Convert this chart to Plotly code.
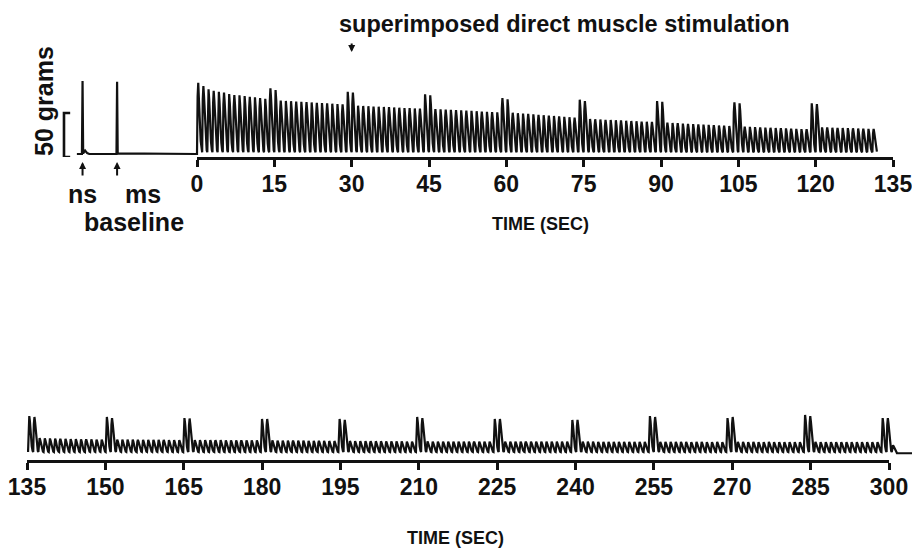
import numpy as np
import plotly.graph_objects as go

W, H = 912, 550

# ---------------- DATA ----------------
top_ticks = [0, 15, 30, 45, 60, 75, 90, 105, 120, 135]
bottom_ticks = [135, 150, 165, 180, 195, 210, 225, 240, 255, 270, 285, 300]

# baseline responses (nerve stimulation "ns", direct muscle stimulation "ms"), grams
baseline_labels = ["ns", "ms"]
baseline_spike_t = [-22.2, -15.5]
baseline_spike_g = [83.0, 82.0]
baseline_start_t = -23.3
scale_bar_g = 50

# top record: twitch peaks (grams), 1 Hz nerve stimulation, 0-132 s
top_initial_g = [81.0, 77.3, 73.5, 71.9, 70.8, 69.7, 68.2, 67.0, 66.7, 65.9, 65.1, 64.4, 63.6, 62.8]
top_direct_g = [[74.7, 72.7], [70.8, 69.7], [67.8, 66.7], [63.6, 62.2],
                [61.7, 60.2], [60.2, 59.4], [58.8, 57.6], [57.6, 56.8]]
top_between_g = [
    [60.6, 60.3, 60.0, 59.6, 59.3, 58.9, 58.6, 58.2, 57.9, 57.5, 57.2, 56.8, 56.5],
    [54.9, 54.6, 54.3, 54.0, 53.8, 53.5, 53.2, 52.9, 52.6, 52.3, 52.1, 51.8, 51.5],
    [51.1, 50.8, 50.5, 50.2, 49.9, 49.6, 49.3, 49.0, 48.6, 48.3, 48.0, 47.7, 47.4],
    [46.9, 46.4, 46.0, 45.5, 45.0, 44.6, 44.1, 43.6, 43.2, 42.7, 42.2, 41.8, 41.3],
    [39.8, 39.5, 39.2, 38.9, 38.7, 38.4, 38.1, 37.8, 37.5, 37.2, 36.9, 36.7, 36.4],
    [35.6, 35.3, 35.0, 34.6, 34.3, 34.0, 33.7, 33.4, 33.1, 32.8, 32.4, 32.1, 31.8],
    [31.0, 30.8, 30.5, 30.3, 30.0, 29.8, 29.5, 29.3, 29.1, 28.8, 28.6, 28.3, 28.1],
    [30.3, 30.1, 29.9, 29.7, 29.5, 29.4, 29.2, 29.0, 28.8, 28.6, 28.4],
]

# bottom record: twitch peaks (grams), 135-301 s
bottom_direct_g = [[44.3, 43.2], [43.2, 42.0], [42.0, 41.5], [40.9, 40.9], [40.9, 39.8], [43.2, 42.0],
                   [40.9, 40.9], [39.8, 39.8], [44.3, 43.2], [42.0, 43.2], [45.5, 44.3], [42.0, 42.0]]
bottom_between_g = [
    [19.3, 19.0, 18.8, 18.6, 18.4, 18.3, 18.1, 18.0, 17.9, 17.8, 17.7, 17.6, 17.6],
    [17.6, 17.5, 17.5, 17.4, 17.3, 17.3, 17.2, 17.2, 17.1, 17.1, 17.0, 17.0, 17.0],
    [17.0, 17.0, 16.9, 16.9, 16.8, 16.8, 16.7, 16.7, 16.6, 16.6, 16.5, 16.5, 16.5],
    [16.5, 16.4, 16.4, 16.3, 16.3, 16.2, 16.2, 16.1, 16.1, 16.0, 16.0, 15.9, 15.9],
    [15.9, 15.8, 15.8, 15.7, 15.7, 15.6, 15.6, 15.5, 15.5, 15.4, 15.4, 15.3, 15.3],
    [15.4, 15.3, 15.3, 15.3, 15.3, 15.2, 15.3, 15.3, 15.2, 15.2, 15.3, 15.2, 15.2],
    [15.3, 15.3, 15.2, 15.2, 15.3, 15.2, 15.2, 15.2, 15.1, 15.2, 15.1, 15.1, 15.1],
    [15.2, 15.1, 15.1, 15.0, 15.0, 15.0, 14.9, 14.9, 14.9, 14.8, 14.8, 14.8, 14.8],
    [14.9, 14.9, 14.8, 14.8, 14.8, 14.8, 14.7, 14.8, 14.8, 14.7, 14.7, 14.8, 14.7],
    [14.8, 14.8, 14.7, 14.8, 14.7, 14.7, 14.8, 14.7, 14.7, 14.7, 14.6, 14.7, 14.7],
    [14.8, 14.7, 14.7, 14.7, 14.6, 14.7, 14.6, 14.6, 14.7, 14.6, 14.6, 14.6, 14.5],
]
bottom_last_g = [11.0]

top_first_onset, top_period = 0.0, 1.0
bottom_first_onset, bottom_period = 135.2, 0.99

# ---------------- BUILD TRACES ----------------
top_peaks = list(top_initial_g)
for d, b in zip(top_direct_g, top_between_g):
    top_peaks += d + b
bottom_peaks = []
for i, d in enumerate(bottom_direct_g):
    bottom_peaks += d
    if i < len(bottom_between_g):
        bottom_peaks += bottom_between_g[i]
bottom_peaks += bottom_last_g

# twitch waveform template (fraction of period, fraction of peak)
TW_T = [0.0, 0.12, 0.24, 0.36, 0.52, 0.72, 0.88]
TW_F = [0.0, 0.8, 1.0, 0.85, 0.5, 0.16, 0.03]


def twitch_train(first, period, peaks, trough):
    xs, ys = [], []
    for k, a in enumerate(peaks):
        t0 = first + k * period
        for dt, f in zip(TW_T, TW_F):
            xs.append(t0 + dt * period)
            ys.append(trough + (a - trough) * f)
    return xs, ys


# baseline segment (left of t = 0)
bx, by = [baseline_start_t], [0.0]
for t, g in zip(baseline_spike_t, baseline_spike_g):
    bx += [t - 0.12, t, t + 0.12]
    by += [0.0, g, 0.8]
    if t == baseline_spike_t[0]:
        bx += [t + 0.5, t + 0.9, t + 1.3]
        by += [4.0, 1.0, 0.0]
bx += [0.0]
by += [0.0]

tx, ty = twitch_train(top_first_onset, top_period, top_peaks, 2.0)
top_x = bx + tx
top_y = by + ty

bxx, byy = twitch_train(bottom_first_onset, bottom_period, bottom_peaks, 3.4)
end_t = bottom_first_onset + len(bottom_peaks) * bottom_period
bxx += [end_t, 305.0]
byy += [2.0, 2.0]

INK = "#111111"
LW = 2.2
FONT = "Liberation Sans"

fig = go.Figure()
for xa in ["x3", "x"]:
    fig.add_trace(go.Scatter(x=top_x, y=top_y, mode="lines", xaxis=xa, yaxis="y",
                             line=dict(color=INK, width=LW), hoverinfo="skip"))
for xa in ["x2", "x4"]:
    fig.add_trace(go.Scatter(x=bxx, y=byy, mode="lines", xaxis=xa, yaxis="y2",
                             line=dict(color=INK, width=LW), hoverinfo="skip"))

# scale bar bracket (50 grams)
ax_floor_g = -3.4
bar_t = baseline_start_t - 2.5
fig.add_trace(go.Scatter(x=[bar_t + 1.2, bar_t, bar_t, bar_t + 1.2],
                         y=[ax_floor_g + scale_bar_g, ax_floor_g + scale_bar_g, ax_floor_g, ax_floor_g],
                         mode="lines", xaxis="x3", yaxis="y", line=dict(color=INK, width=2.6),
                         hoverinfo="skip"))

px_per_g = 0.88
top_base_px = 154
bot_base_px = 455
top_dom = [1 - 157 / H, 1 - 60 / H]
bot_dom = [1 - 460 / H, 1 - 400 / H]
top_yr = [-(157 - top_base_px) / px_per_g, (top_base_px - 60) / px_per_g]
bot_yr = [-(460 - bot_base_px) / px_per_g, (bot_base_px - 400) / px_per_g]

s_top = (893 - 197) / 135.0
s_bot = (889 - 27) / 165.0

tickfont = dict(family=FONT, size=23, color=INK, weight="bold")
axis_common = dict(showline=True, linewidth=3, linecolor=INK, ticks="outside", ticklen=7,
                   tickwidth=3, tickcolor=INK, showgrid=False, zeroline=False,
                   tickfont=tickfont, fixedrange=True, automargin=False, ticklabelstandoff=-3,
                   ticklabeloverflow="allow")

fig.update_layout(
    width=W, height=H, margin=dict(l=0, r=0, t=0, b=0, autoexpand=False),
    paper_bgcolor="white", plot_bgcolor="rgba(0,0,0,0)", showlegend=False,
    xaxis=dict(domain=[197 / W, 893 / W], range=[0, 135], anchor="y", tickvals=top_ticks, **axis_common),
    xaxis3=dict(domain=[0, 197 / W], range=[-197 / s_top, 0], anchor="y", visible=False, automargin=False),
    yaxis=dict(domain=top_dom, range=top_yr, visible=False, automargin=False),
    xaxis2=dict(domain=[27 / W, 889 / W], range=[135, 300], anchor="y2", tickvals=bottom_ticks, **axis_common),
    xaxis4=dict(domain=[889 / W, 1], range=[300, 300 + 23 / s_bot], anchor="y2", visible=False, automargin=False),
    yaxis2=dict(domain=bot_dom, range=bot_yr, visible=False, automargin=False),
)


def ann(text, xpx, ypx, size, angle=0):
    fig.add_annotation(text=text, x=xpx / W, y=1 - ypx / H, xref="paper", yref="paper",
                       showarrow=False, textangle=angle, xanchor="center", yanchor="middle",
                       font=dict(family=FONT, size=size, color=INK, weight="bold"))


ann("superimposed direct muscle stimulation", 564, 24, 23.5)
ann("50 grams", 44, 101, 25, angle=-90)
ann("ns", 82.5, 194, 25)
ann("ms", 142.5, 194, 25)
ann("baseline", 134, 222, 25)
ann("TIME (SEC)", 540, 224, 18)
ann("TIME (SEC)", 455, 538, 18)

# small arrows
fig.add_annotation(x=30, y=1 - 52 / H, xref="x", yref="paper", ax=0, ay=-10, text="",
                   showarrow=True, arrowhead=2, arrowsize=0.7, arrowwidth=2, arrowcolor=INK)
for t in baseline_spike_t:
    fig.add_annotation(x=t, y=1 - 162 / H, xref="x3", yref="paper", ax=0, ay=15, text="",
                       showarrow=True, arrowhead=2, arrowsize=0.7, arrowwidth=2, arrowcolor=INK)

fig.write_html("out.html")
